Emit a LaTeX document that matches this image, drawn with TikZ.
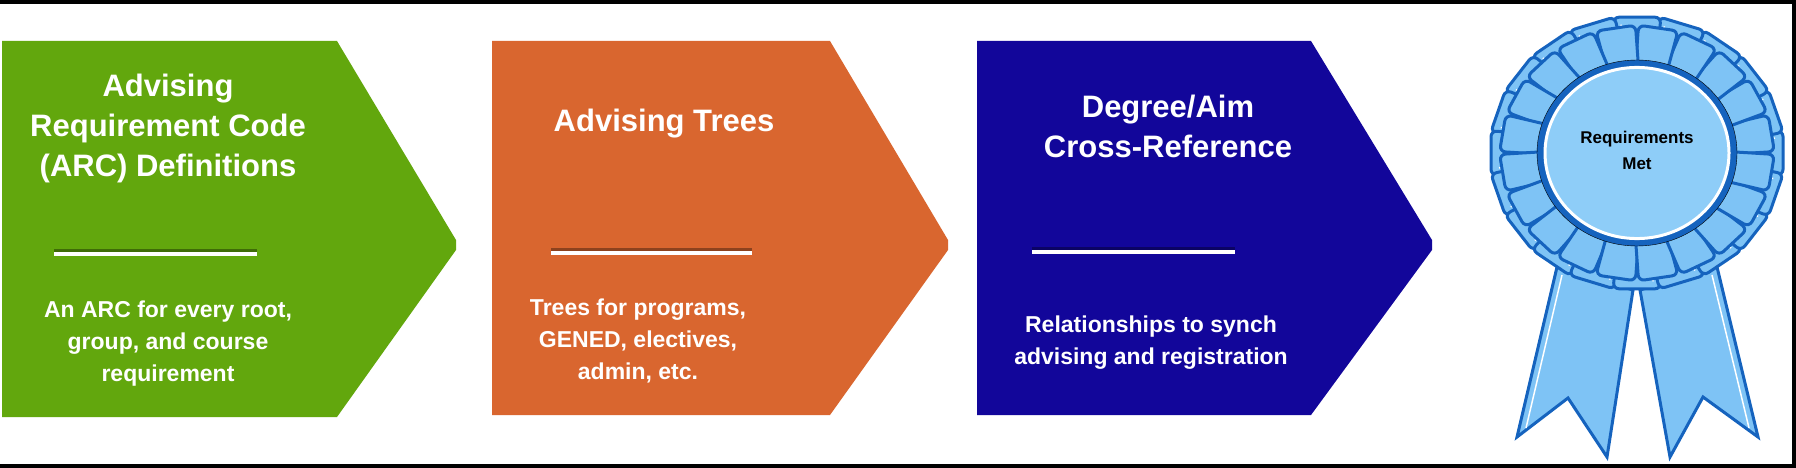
\documentclass[tikz,border=0pt]{standalone}
\usepackage{fontspec}
\setmainfont{Liberation Sans}
\begin{document}
\begin{tikzpicture}[x=1pt,y=-1pt,
  arrowshape/.style={draw=none},
  ttl/.style={text=white,font=\fontsize{31}{40}\selectfont\bfseries,align=center},
  body/.style={text=white,font=\fontsize{23}{32}\selectfont\bfseries,align=center},
  sep/.style={white,line width=4pt},
  shadow/.style={black,opacity=0.35,line width=4pt},
  petal/.style={fill=ribfill,draw=ribline,line width=3pt,rounded corners=6pt},
]
\definecolor{cgreen}{HTML}{62A70D}
\definecolor{corange}{HTML}{D9662F}
\definecolor{cblue}{HTML}{12069A}
\definecolor{ribfill}{HTML}{7EC3F5}
\definecolor{ribline}{HTML}{1563BE}
\definecolor{ribdisc}{HTML}{8ECDF8}
\useasboundingbox (0,0) rectangle (1796,468);
\fill[white] (0,0) rectangle (1796,468);
% frame
\draw[black,line width=4pt] (0,2) -- (1794,2) -- (1794,466) -- (0,466);
% chevrons
\fill[cgreen] (2,41) -- (337,41) -- (456,240) -- (456,250) -- (337,417) -- (2,417) -- cycle;
\fill[corange] (492,41) -- (830,41) -- (948,240) -- (948,250) -- (830,415) -- (492,415) -- cycle;
\fill[cblue] (977,41) -- (1311,41) -- (1432,240) -- (1432,250) -- (1311,415) -- (977,415) -- cycle;
% separators
\coordinate (s1a) at (54,254); \coordinate (s1b) at (257,254);
\coordinate (s2a) at (551,253); \coordinate (s2b) at (752,253);
\coordinate (s3a) at (1032,252); \coordinate (s3b) at (1235,252);
\draw[shadow] ([yshift=3pt]s1a) -- ([yshift=3pt]s1b);
\draw[shadow] ([yshift=3pt]s2a) -- ([yshift=3pt]s2b);
\draw[shadow] ([yshift=3pt]s3a) -- ([yshift=3pt]s3b);
\draw[sep] (s1a) -- (s1b);
\draw[sep] (s2a) -- (s2b);
\draw[sep] (s3a) -- (s3b);
% texts
\node[ttl] (t1) at (168,128) {Advising\\Requirement Code\\(ARC) Definitions};
\node[body] (b1) at (168,344) {An ARC for every root,\\group, and course\\requirement};
\node[ttl] (t2) at (664,124) {Advising Trees};
\node[body] (b2) at (638,341) {Trees for programs,\\GENED, electives,\\admin, etc.};
\node[ttl] (t3) at (1168,126) {Degree/Aim\\Cross-Reference};
\node[body] (b3) at (1151,343) {Relationships to synch\\advising and registration};
% ribbon tails
\filldraw[fill=ribfill,draw=ribline,line width=3pt,line join=miter]
  (1557,267) -- (1517,437) -- (1568,398) -- (1607,457) -- (1633,290) -- cycle;
\filldraw[fill=ribfill,draw=ribline,line width=3pt,line join=miter]
  (1640,290) -- (1670,457) -- (1703,397) -- (1758,437) -- (1717,267) -- cycle;
\draw[white,line width=1.5pt] (1562,275) -- (1526,428);
\draw[white,line width=1.5pt] (1712,275) -- (1749,428);
% rosette
\begin{scope}[shift={(1637,153)},yscale=0.93]
  \foreach \a in {0,18,...,342} {
    \filldraw[petal,rotate=\a] (70,-16) -- (146,-24) -- (146,24) -- (70,16) -- cycle;
    \draw[white,line width=1.5pt,rotate=\a] (100,-12) -- (138,-16);
  }
  \foreach \a in {9,27,...,351} {
    \filldraw[petal,rotate=\a] (70,-14) -- (136,-20) -- (136,20) -- (70,14) -- cycle;
  }
  \filldraw[fill=ribline] (0,0) circle (100);
  \filldraw[fill=ribdisc,draw=white,line width=3pt] (0,0) circle (92);
\end{scope}
\node[font=\fontsize{17}{26}\selectfont\bfseries,align=center] (rm) at (1637,150) {Requirements\\Met};
\end{tikzpicture}
\end{document}
